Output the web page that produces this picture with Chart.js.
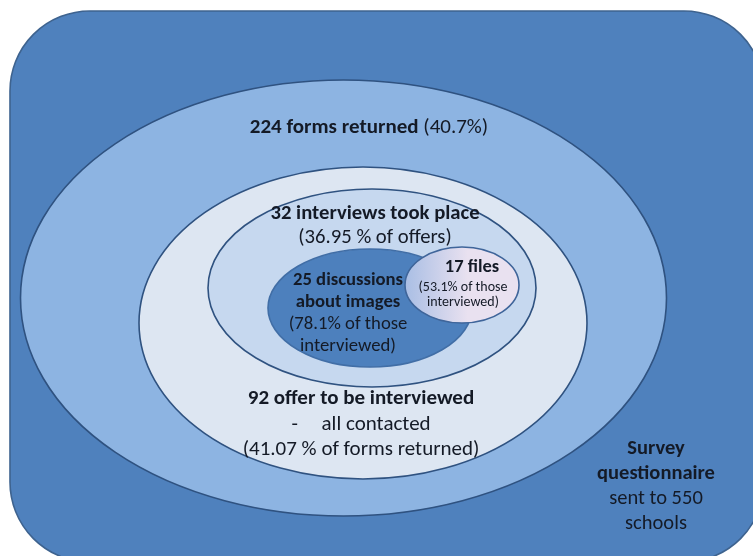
<!DOCTYPE html>
<html>
<head>
<meta charset="utf-8">
<script src="https://cdn.jsdelivr.net/npm/chart.js@4/dist/chart.umd.min.js"></script>
<style>
  html, body { margin: 0; padding: 0; background: #fff; }
  #wrap { width: 753px; height: 556px; }
</style>
</head>
<body>
<div id="wrap"><canvas id="funnel"></canvas></div>
<script>
// survey stages, outermost first
const stages = ["Survey questionnaire", "Forms returned", "Offer to be interviewed", "Interviews took place", "Discussions about images", "Files"];
const counts = [550, 224, 92, 32, 25, 17];
const percents = [null, 40.7, 41.07, 36.95, 78.1, 53.1];

// shape geometry in diagram units (x 0..753, y 0..556)
const shapes = [
  { kind: "rect", x0: 10, y0: 11, x1: 764, y1: 562, r: 80, fill: "#4f81bd", stroke: "#3e638f" },
  { kind: "ellipse", cx: 343.5, cy: 298, rx: 323, ry: 218, fill: "#8db4e2", stroke: "#2f5280" },
  { kind: "ellipse", cx: 363, cy: 323, rx: 224, ry: 156, fill: "#dde6f2", stroke: "#2f5280" },
  { kind: "ellipse", cx: 372, cy: 288, rx: 164, ry: 99, fill: "#c6d8ef", stroke: "#2f5280" },
  { kind: "ellipse", cx: 370, cy: 308, rx: 102, ry: 59, fill: "#4d80bd", stroke: "#416ea6" },
  { kind: "ellipse", cx: 462, cy: 285, rx: 57, ry: 38, fill: ["#a9bee4", "#e9e1f0"], stroke: "#3f659a" }
];

// text blocks: anchor in diagram units, line height, size
const labelBlocks = [
  { stage: 0, x: 656, y: 449, lh: 24.8, size: 20.5, lines: [
      [[true, "Survey"]],
      [[true, "questionnaire"]],
      [[false, "sent to " + counts[0]]],
      [[false, "schools"]] ] },
  { stage: 1, x: 369, y: 128, lh: 24, size: 21, lines: [
      [[true, counts[1] + " forms returned "], [false, "(" + percents[1] + "%)"]] ] },
  { stage: 2, x: 361, y: 399, lh: 25.5, size: 21, lines: [
      [[true, counts[2] + " offer to be interviewed"]],
      [[false, "-     all contacted"]],
      [[false, "(" + percents[2].toFixed(2) + " % of forms returned)"]] ] },
  { stage: 3, x: 375, y: 214, lh: 24, size: 20.7, lines: [
      [[true, counts[3] + " interviews took place"]],
      [[false, "(" + percents[3] + " % of offers)"]] ] },
  { stage: 4, x: 348, y: 280, lh: 22.2, size: 18.7, lines: [
      [[true, counts[4] + " discussions"]],
      [[true, "about images"]],
      [[false, "(" + percents[4] + "% of those"]],
      [[false, "interviewed)"]] ] },
  { stage: 5, x: 472, y: 267, lh: 17, size: 18.5, lines: [
      [[true, counts[5] + " files"]] ] },
  { stage: 5, x: 463, y: 287, lh: 15, size: 14, lines: [
      [[false, "(" + percents[5] + "% of those"]],
      [[false, "interviewed)"]] ] }
];

const FONT = "Carlito, 'Liberation Sans Narrow', 'Open Sans', sans-serif";

const diagramPlugin = {
  id: "nestedDiagram",
  beforeDatasetsDraw(chart) {
    const ctx = chart.ctx;
    const sx = chart.scales.x, sy = chart.scales.y;
    const px = v => sx.getPixelForValue(v);
    const py = v => sy.getPixelForValue(v);
    const ux = d => Math.abs(px(d) - px(0));
    const uy = d => Math.abs(py(d) - py(0));

    ctx.save();
    shapes.forEach(s => {
      ctx.beginPath();
      if (s.kind === "rect") {
        const x = px(s.x0), y = py(s.y0);
        ctx.roundRect(x, y, px(s.x1) - x, py(s.y1) - y, ux(s.r));
      } else {
        ctx.ellipse(px(s.cx), py(s.cy), ux(s.rx), uy(s.ry), 0, 0, Math.PI * 2);
      }
      if (Array.isArray(s.fill)) {
        const g = ctx.createLinearGradient(px(s.cx - s.rx), 0, px(s.cx + s.rx), 0);
        g.addColorStop(0, s.fill[0]);
        g.addColorStop(0.55, s.fill[1]);
        g.addColorStop(1, s.fill[1]);
        ctx.fillStyle = g;
      } else {
        ctx.fillStyle = s.fill;
      }
      ctx.fill();
      ctx.lineWidth = 1.6;
      ctx.strokeStyle = s.stroke;
      ctx.stroke();
    });

    ctx.fillStyle = "#141a26";
    ctx.textBaseline = "middle";
    ctx.textAlign = "left";
    labelBlocks.forEach(b => {
      b.lines.forEach((segs, i) => {
        let w = 0;
        segs.forEach(([bold, t]) => {
          ctx.font = (bold ? "bold " : "") + b.size + "px " + FONT;
          w += ctx.measureText(t).width;
        });
        let x = px(b.x) - w / 2;
        const y = py(b.y + i * b.lh);
        segs.forEach(([bold, t]) => {
          ctx.font = (bold ? "bold " : "") + b.size + "px " + FONT;
          ctx.fillText(t, x, y);
          x += ctx.measureText(t).width;
        });
      });
    });
    ctx.restore();
  }
};

new Chart(document.getElementById("funnel"), {
  type: "scatter",
  data: {
    datasets: stages.map((name, i) => ({
      label: name,
      data: [{ x: shapes[i].kind === "rect" ? 654 : shapes[i].cx, y: shapes[i].kind === "rect" ? 480 : shapes[i].cy, n: counts[i] }],
      pointRadius: 0
    }))
  },
  options: {
    responsive: true,
    maintainAspectRatio: false,
    animation: false,
    layout: { padding: 0 },
    scales: {
      x: { type: "linear", min: 0, max: 753, display: false },
      y: { type: "linear", min: 0, max: 556, reverse: true, display: false }
    },
    plugins: {
      legend: { display: false },
      tooltip: { enabled: false }
    }
  },
  plugins: [diagramPlugin]
});
</script>
</body>
</html>
